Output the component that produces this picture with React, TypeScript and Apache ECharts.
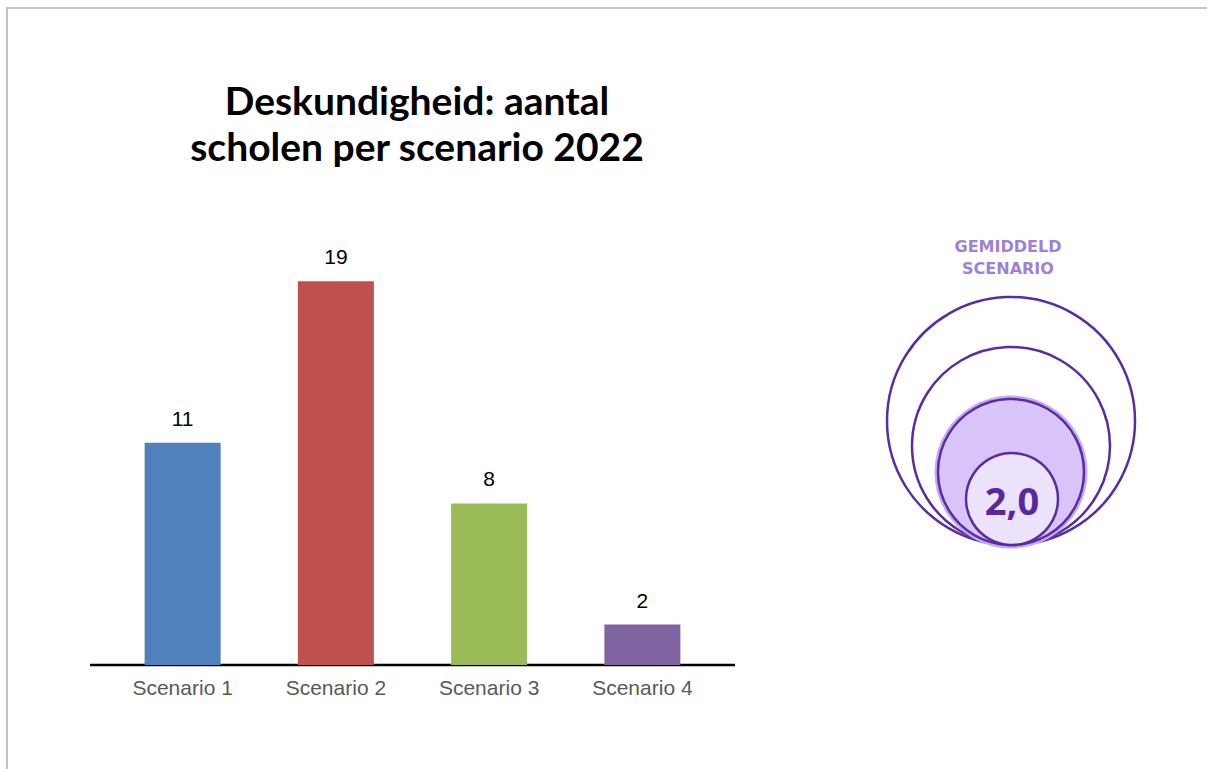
import React, { useEffect, useRef } from "react";
import * as echarts from "echarts";

const categories = ["Scenario 1", "Scenario 2", "Scenario 3", "Scenario 4"];
const values = [11, 19, 8, 2];
const barColors = ["#4f81bd", "#c0504d", "#9bbb59", "#8064a2"];
const titleLines = ["Deskundigheid: aantal", "scholen per scenario 2022"];
const averageLabel = ["GEMIDDELD", "SCENARIO"];
const averageValue = "2,0";

export default function App() {
  const ref = useRef<HTMLDivElement>(null);
  useEffect(() => {
    if (!ref.current) return;
    const chart = echarts.init(ref.current, null, { renderer: "svg" });
    const purple = "#5a2ca0";
    const cx = 1011;
    const bottomY = 545;
    const radii = [124, 99, 73, 46];
    chart.setOption({
      animation: false,
      backgroundColor: "#ffffff",
      title: {
        text: titleLines.join("\n"),
        left: 412,
        top: 72,
        textAlign: "center",
        textStyle: {
          fontFamily: "Lato",
          fontWeight: "bold",
          fontSize: 39,
          lineHeight: 46,
          color: "#000000",
        },
      },
      grid: { left: 106, right: 488, top: 261, bottom: 104 },
      xAxis: {
        type: "category",
        data: categories,
        axisLine: { show: false },
        axisTick: { show: false },
        axisLabel: {
          margin: 12,
          fontFamily: "Liberation Sans",
          fontSize: 21,
          color: "#595959",
        },
      },
      yAxis: {
        type: "value",
        min: 0,
        max: 20,
        show: false,
        splitLine: { show: false },
      },
      series: [
        {
          type: "bar",
          barWidth: 76,
          data: values.map((v, i) => ({ value: v, itemStyle: { color: barColors[i] } })),
          label: {
            show: true,
            position: "top",
            distance: 14,
            fontFamily: "Liberation Sans",
            fontSize: 21,
            color: "#000000",
          },
        },
      ],
      graphic: [
        {
          type: "rect",
          shape: { x: 7, y: 8, width: 1400, height: 1000 },
          style: { fill: "none", stroke: "#c4c4c4", lineWidth: 2 },
          silent: true,
        },
        {
          type: "line",
          shape: { x1: 90, y1: 665, x2: 735, y2: 665 },
          style: { stroke: "#000000", lineWidth: 2.5 },
        },
        {
          type: "text",
          x: 1008,
          y: 257,
          style: {
            text: averageLabel.join("\n"),
            fill: "#a07fd8",
            font: "bold 16px 'DejaVu Sans'",
            align: "center",
            verticalAlign: "middle",
            lineHeight: 22,
          },
        },
        {
          type: "circle",
          shape: { cx: cx, cy: bottomY - radii[0], r: radii[0] },
          style: { fill: "#ffffff", stroke: purple, lineWidth: 2.5 },
        },
        {
          type: "circle",
          shape: { cx: cx, cy: bottomY - radii[1], r: radii[1] },
          style: { fill: "#ffffff", stroke: purple, lineWidth: 2.5 },
        },
        {
          type: "circle",
          shape: { cx: cx, cy: bottomY - radii[2], r: radii[2] + 1.5 },
          style: { fill: "#d8c4f8", stroke: "#c6a9f0", lineWidth: 4 },
        },
        {
          type: "circle",
          shape: { cx: cx, cy: bottomY - radii[2], r: radii[2] },
          style: { fill: "#d8c4f8", stroke: purple, lineWidth: 2.5 },
        },
        {
          type: "circle",
          shape: { cx: cx + 1, cy: bottomY - radii[3], r: radii[3] },
          style: { fill: "#ece2fc", stroke: purple, lineWidth: 2.5 },
        },
        {
          type: "text",
          x: cx + 1,
          y: bottomY - radii[3] + 1,
          style: {
            text: averageValue,
            fill: "#57299c",
            font: "bold 38px 'Open Sans'",
            align: "center",
            verticalAlign: "middle",
          },
        },
      ],
    });
    return () => chart.dispose();
  }, []);
  return (
    <div
      ref={ref}
      style={{ position: "absolute", left: 0, top: 0, width: 1207, height: 769 }}
    />
  );
}
